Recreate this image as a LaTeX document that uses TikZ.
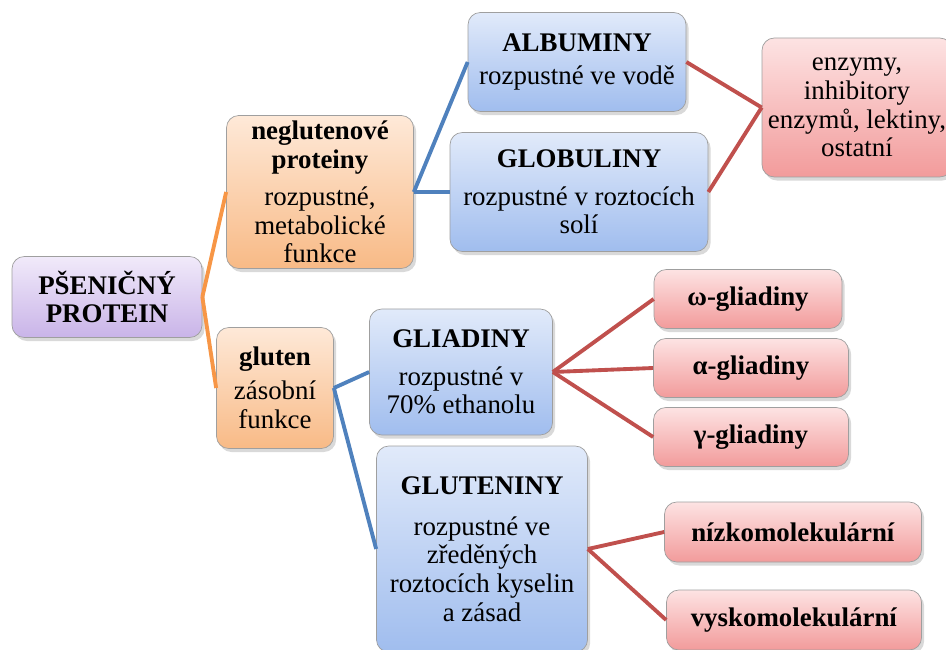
\documentclass[tikz,border=0pt]{standalone}
\usepackage{fontspec}
\setmainfont{Liberation Serif}
\usetikzlibrary{shadows}

\definecolor{lilacTop}{HTML}{F1EAFA}
\definecolor{lilacBot}{HTML}{C9B4E8}
\definecolor{orangeTop}{HTML}{FEE9D8}
\definecolor{orangeBot}{HTML}{F8BA86}
\definecolor{blueTop}{HTML}{E1EAFA}
\definecolor{blueBot}{HTML}{A0BDEE}
\definecolor{redTop}{HTML}{FDE3E3}
\definecolor{redBot}{HTML}{F29B9B}
\definecolor{orangeLine}{HTML}{F79646}
\definecolor{blueLine}{HTML}{4F81BD}
\definecolor{redLine}{HTML}{C0504D}

\begin{document}
\begin{tikzpicture}[
    box/.style={rectangle, rounded corners=7pt, draw=gray!75, align=center, inner sep=2pt,
        font=\fontsize{15.3}{16.3}\selectfont,
        drop shadow={opacity=0.3, shadow xshift=1.5pt, shadow yshift=-2pt}},
    rootbox/.style={box, top color=lilacTop, bottom color=lilacBot},
    orangebox/.style={box, top color=orangeTop, bottom color=orangeBot},
    bluebox/.style={box, top color=blueTop, bottom color=blueBot},
    redbox/.style={box, top color=redTop, bottom color=redBot},
    orangelink/.style={draw=orangeLine, line width=2.2pt},
    bluelink/.style={draw=blueLine, line width=2.2pt},
    redlink/.style={draw=redLine, line width=2.2pt}
    ]
    \useasboundingbox (0,0) rectangle (18.92,-13);

    % Root
    \node[rootbox, minimum width=3.8cm, minimum height=1.62cm] (root) at (2.14,-5.94) {\textbf{PŠENIČNÝ}\\\textbf{PROTEIN}};

    % Non-gluten proteins
    \node[orangebox, minimum width=3.74cm, minimum height=3.06cm] (neglut) at (6.40,-3.84) {\textbf{neglutenové}\\\textbf{proteiny}\\[5pt]rozpustné,\\metabolické\\funkce};
    \draw[orangelink] (root.east) -- (neglut.west);

    % Gluten
    \node[orangebox, minimum width=2.34cm, minimum height=2.42cm] (gluten) at (5.50,-7.76) {\textbf{gluten}\\[3pt]zásobní\\funkce};
    \draw[orangelink] (root.east) -- (gluten.west);

    % Albumins
    \node[bluebox, minimum width=4.36cm, minimum height=1.98cm] (album) at (11.54,-1.24) {\textbf{ALBUMINY}\\[3pt]rozpustné ve vodě};
    \draw[bluelink] (neglut.east) -- (album.west);

    % Globulins
    \node[bluebox, minimum width=5.16cm, minimum height=2.38cm] (glob) at (11.58,-3.84) {\textbf{GLOBULINY}\\[5pt]rozpustné v roztocích\\solí};
    \draw[bluelink] (neglut.east) -- (glob.west);

    % Enzymes
    \node[redbox, minimum width=3.8cm, minimum height=2.78cm] (enzym) at (17.14,-2.15) {enzymy,\\inhibitory\\enzymů, lektiny,\\ostatní};
    \draw[redlink] (album.east) -- (enzym.west);
    \draw[redlink] (glob.east) -- (enzym.west);

    % Gliadins
    \node[bluebox, minimum width=3.66cm, minimum height=2.52cm] (gliad) at (9.22,-7.44) {\textbf{GLIADINY}\\[5pt]rozpustné v\\70\% ethanolu};
    \draw[bluelink] (gluten.east) -- (gliad.west);

    % Glutenins
    \node[bluebox, minimum width=4.22cm, minimum height=4.12cm] (glutenin) at (9.64,-10.98) {\textbf{GLUTENINY}\\[7pt]rozpustné ve\\zředěných\\roztocích kyselin\\a zásad};
    \draw[bluelink] (gluten.east) -- (glutenin.west);

    % Gliadin fractions
    \node[redbox, minimum width=3.76cm, minimum height=1.18cm] (omega) at (14.96,-5.98) {\textbf{ω-gliadiny}};
    \node[redbox, minimum width=3.9cm, minimum height=1.18cm] (alpha) at (15.02,-7.36) {\textbf{α-gliadiny}};
    \node[redbox, minimum width=3.9cm, minimum height=1.18cm] (gamma) at (15.02,-8.74) {\textbf{γ-gliadiny}};
    \draw[redlink] (gliad.east) -- (omega.west);
    \draw[redlink] (gliad.east) -- (alpha.west);
    \draw[redlink] (gliad.east) -- (gamma.west);

    % Glutenin fractions
    \node[redbox, minimum width=5.14cm, minimum height=1.2cm] (nizko) at (15.86,-10.64) {\textbf{nízkomolekulární}};
    \node[redbox, minimum width=5.1cm, minimum height=1.2cm] (vysko) at (15.88,-12.4) {\textbf{vyskomolekulární}};
    \draw[redlink] (glutenin.east) -- (nizko.west);
    \draw[redlink] (glutenin.east) -- (vysko.west);

\end{tikzpicture}
\end{document}
